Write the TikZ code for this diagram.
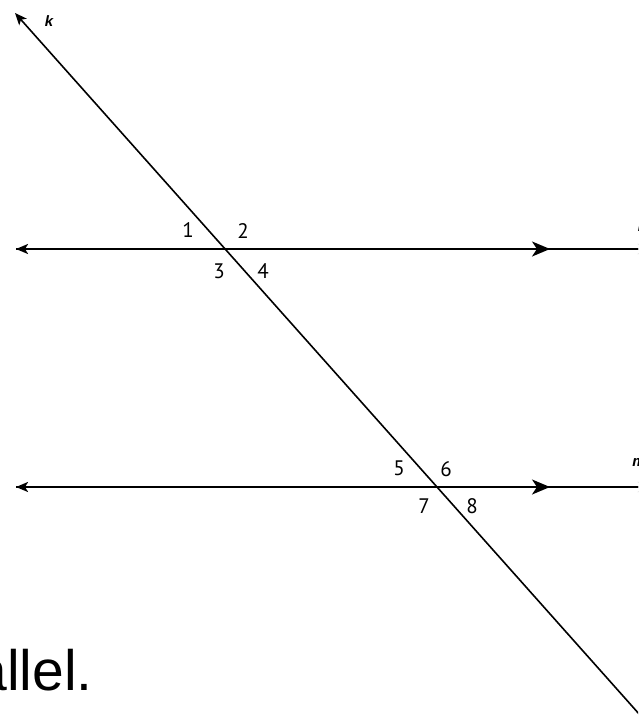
\documentclass[tikz,border=0pt]{standalone}
\usepackage{fontspec}
\setmainfont{Liberation Sans}
\newfontfamily\digitfont{PT Sans}
\usetikzlibrary{arrows.meta}
\begin{document}
\begin{tikzpicture}[x=1pt,y=-1pt,
  hline/.style={line width=2.2pt},
  tline/.style={line width=1.6pt},
  endtip/.style={-{Stealth[length=12pt,width=10pt,inset=3pt]}},
  midtip/.style={-{Stealth[length=18pt,width=15pt,inset=5pt]}},
  num/.style={font=\digitfont\fontsize{21}{21}\selectfont, inner sep=0pt},
  hand/.style={font=\itshape\bfseries\fontsize{15}{15}\selectfont, inner sep=0pt}]
\useasboundingbox (0,0) rectangle (638,725);
\clip (0,0) rectangle (638,725);
% coordinates
\coordinate (Lleft) at (16,249);
\coordinate (Lright) at (650,249);
\coordinate (Mleft) at (16,487);
\coordinate (Mright) at (650,487);
\coordinate (Ktop) at (15,13);
\coordinate (Kbot) at (648,724);
\coordinate (Lmid1) at (520,249);
\coordinate (Lmid2) at (550,249);
\coordinate (Mmid1) at (520,487);
\coordinate (Mmid2) at (550,487);
% lines
\draw[hline,endtip] (Lright) -- (Lleft);
\draw[hline,endtip] (Lleft) -- (Lright);
\draw[hline,endtip] (Mright) -- (Mleft);
\draw[hline,endtip] (Mleft) -- (Mright);
\draw[hline,midtip] (Lmid1) -- (Lmid2);
\draw[hline,midtip] (Mmid1) -- (Mmid2);
\draw[tline,endtip] (Kbot) -- (Ktop);
% angle numbers
\node[num] (n1) at (188,230) {1};
\node[num] (n2) at (243,231) {2};
\node[num] (n3) at (219,271) {3};
\node[num] (n4) at (263,271) {4};
\node[num] (n5) at (399,468) {5};
\node[num] (n6) at (446,469) {6};
\node[num] (n7) at (424,506) {7};
\node[num] (n8) at (472,506) {8};
% line names
\node[hand] (lk) at (49,21) {k};
\node[hand] (ll) at (640,226) {l};
\node[hand] (lm) at (639,462) {m};
% text
\node[font=\fontsize{57}{57}\selectfont, anchor=base east, inner sep=0pt] (txt) at (93,690) {allel.};
\end{tikzpicture}
\end{document}
